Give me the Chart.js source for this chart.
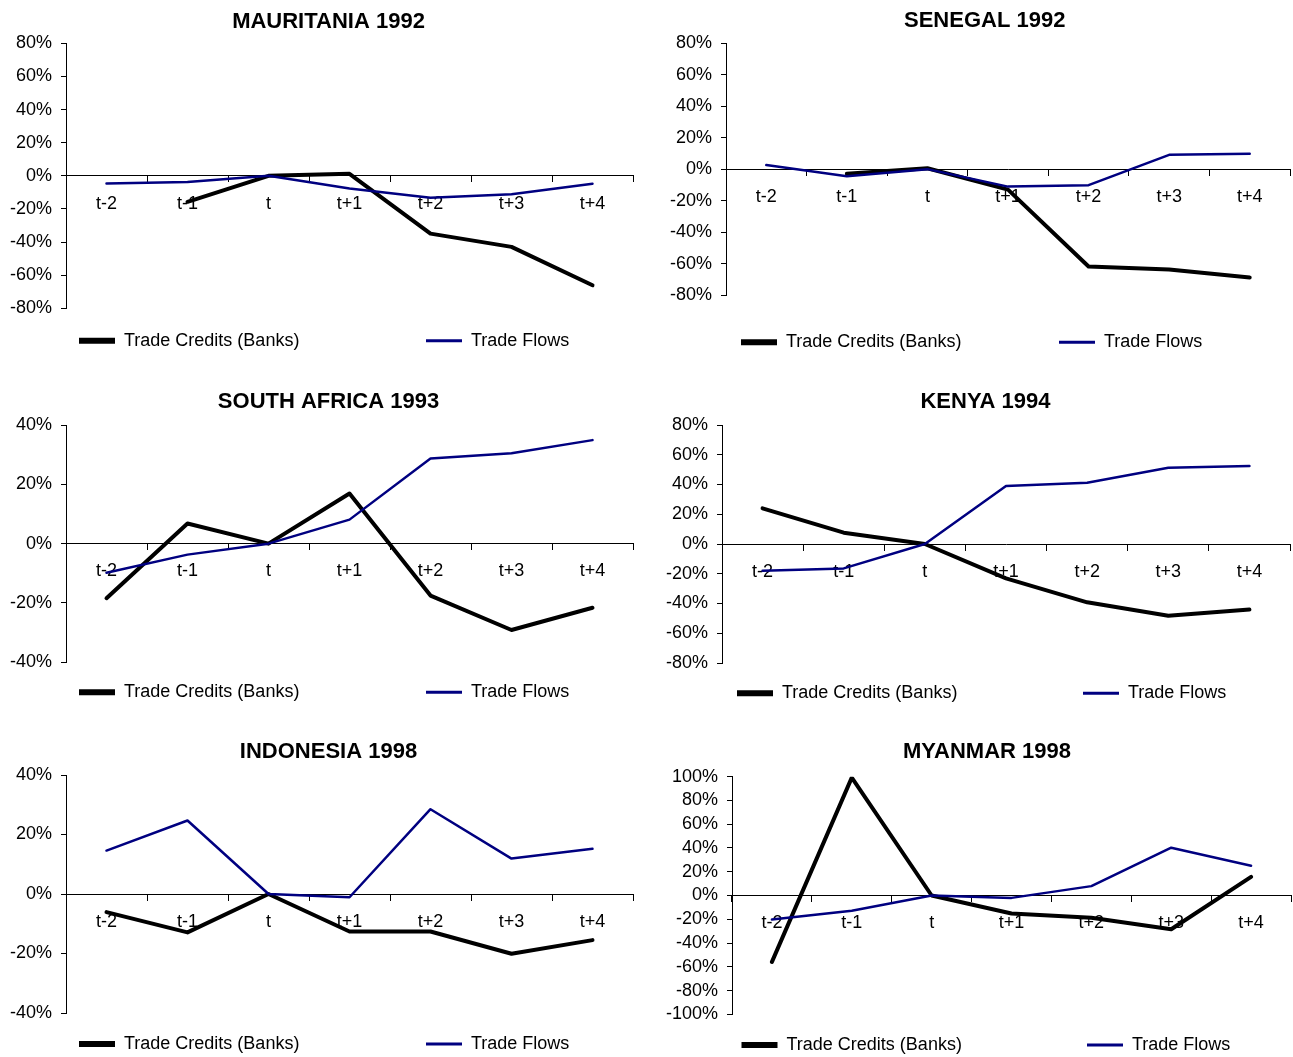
<!DOCTYPE html>
<html lang="en">
<head>
  <meta charset="UTF-8">
  <title>Trade Credits vs Trade Flows</title>
  <script src="https://cdn.jsdelivr.net/npm/chart.js"></script>
  <style>
    body { margin: 0; background: #fff; }
    .panel { position: absolute; }
  </style>
</head>
<body>
  <div id="charts"></div>
  <script>
    // periods around the crisis year
    const periods = ['t-2', 't-1', 't', 't+1', 't+2', 't+3', 't+4'];
    const seriesNames = ['Trade Credits (Banks)', 'Trade Flows'];

    // values in percent
    const mauritaniaCredits = [null, -15.7, 0, 1.2, -34.9, -42.9, -66.1];
    const mauritaniaFlows = [-4.6, -3.8, 0, -7.7, -13.3, -11.1, -4.8];

    const senegalCredits = [null, -3.0, 0.6, -13.0, -61.9, -63.8, -68.9];
    const senegalFlows = [2.6, -4.5, 0, -11.1, -10.2, 9.1, 9.8];

    const southAfricaCredits = [-18.4, 6.8, 0, 16.9, -17.5, -29.1, -21.6];
    const southAfricaFlows = [-9.8, -3.7, 0, 8.1, 28.7, 30.5, 34.9];

    const kenyaCredits = [24.0, 7.6, 0, -23.1, -39.2, -48.2, -44.1];
    const kenyaFlows = [-17.9, -16.4, 0, 39.0, 41.2, 51.3, 52.4];

    const indonesiaCredits = [-6.1, -12.9, 0, -12.6, -12.6, -20.1, -15.5];
    const indonesiaFlows = [14.6, 24.7, 0, -1.1, 28.5, 11.9, 15.2];

    const myanmarCredits = [-55.9, 99.2, 0, -15.2, -18.8, -28.4, 15.7];
    const myanmarFlows = [-20.2, -12.9, 0, -2.0, 7.9, 40.2, 25.0];

    // y axis ranges (percent)
    const range80 = { min: -80, max: 80, step: 20 };
    const range40 = { min: -40, max: 40, step: 20 };
    const range100 = { min: -100, max: 100, step: 20 };

    const FONT = '"Liberation Sans", Arial, sans-serif';
    Chart.defaults.font.family = FONT;
    Chart.defaults.color = '#000';

    // title is centred over the whole excel chart object, not only the canvas box
    const titleShift = {
      id: 'titleShift',
      afterLayout(chart, args, opts) {
        const t = chart.titleBlock;
        if (t && opts.dx) {
          t.left += opts.dx;
          t.right += opts.dx;
        }
      }
    };

    // excel style legend: two entries spread far apart under the plot
    const lineLegend = {
      id: 'lineLegend',
      afterDraw(chart, args, opts) {
        const ctx = chart.ctx;
        ctx.save();
        ctx.font = '18px ' + FONT;
        ctx.textBaseline = 'middle';
        ctx.fillStyle = '#000';
        chart.data.datasets.forEach((ds, i) => {
          const x = opts.x[i];
          ctx.strokeStyle = ds.borderColor;
          ctx.lineWidth = ds.legendWidth;
          ctx.beginPath();
          ctx.moveTo(x, opts.y);
          ctx.lineTo(x + 36, opts.y);
          ctx.stroke();
          ctx.fillText(ds.label, x + 45, opts.y);
        });
        ctx.restore();
      }
    };

    const panels = [
      { title: 'MAURITANIA 1992', credits: mauritaniaCredits, flows: mauritaniaFlows, range: range80,
        box: [0, 0, 646, 362], axisW: 66, padRight: 13, padBottom: 53.7, titleY: 22.3, plotTop: 43.3,
        titleDx: 12, legendX: [79, 426], legendY: 340.7 },
      { title: 'SENEGAL 1992', credits: senegalCredits, flows: senegalFlows, range: range80,
        box: [646, 0, 647, 362], axisW: 80, padRight: 3, padBottom: 67, titleY: 20.7, plotTop: 43.3,
        titleDx: 16.7, legendX: [95, 413], legendY: 342.3 },
      { title: 'SOUTH AFRICA 1993', credits: southAfricaCredits, flows: southAfricaFlows, range: range40,
        box: [0, 380, 646, 335], axisW: 66, padRight: 13, padBottom: 52.7, titleY: 22.3, plotTop: 45,
        titleDx: 12, legendX: [79, 426], legendY: 312.3 },
      { title: 'KENYA 1994', credits: kenyaCredits, flows: kenyaFlows, range: range80,
        box: [646, 380, 647, 335], axisW: 76, padRight: 3, padBottom: 52, titleY: 22.3, plotTop: 45,
        titleDx: 17.5, legendX: [91, 437], legendY: 313.3 },
      { title: 'INDONESIA 1998', credits: indonesiaCredits, flows: indonesiaFlows, range: range40,
        box: [0, 730, 646, 327], axisW: 66, padRight: 13, padBottom: 44, titleY: 22.3, plotTop: 45,
        titleDx: 12, legendX: [79, 426], legendY: 314 },
      { title: 'MYANMAR 1998', credits: myanmarCredits, flows: myanmarFlows, range: range100,
        box: [646, 730, 647, 327], axisW: 86, padRight: 2, padBottom: 42.7, titleY: 22.3, plotTop: 46.7,
        titleDx: 18.5, legendX: [95.5, 441], legendY: 315 }
    ];

    const holder = document.getElementById('charts');

    panels.forEach(p => {
      const [left, top, width, height] = p.box;
      const div = document.createElement('div');
      div.className = 'panel';
      div.style.left = left + 'px';
      div.style.top = top + 'px';
      const canvas = document.createElement('canvas');
      canvas.width = width;
      canvas.height = height;
      div.appendChild(canvas);
      holder.appendChild(div);

      const half = 22 * 1.2 / 2;

      new Chart(canvas.getContext('2d'), {
        type: 'line',
        data: {
          labels: periods,
          datasets: [
            {
              label: seriesNames[0],
              data: p.credits,
              borderColor: '#000',
              borderWidth: 4,
              legendWidth: 6,
              order: 1
            },
            {
              label: seriesNames[1],
              data: p.flows,
              borderColor: '#000080',
              borderWidth: 2.5,
              legendWidth: 3,
              order: 0
            }
          ]
        },
        options: {
          responsive: false,
          animation: false,
          events: [],
          spanGaps: false,
          elements: {
            point: { radius: 0 },
            line: { tension: 0, borderJoinStyle: 'round', borderCapStyle: 'round' }
          },
          layout: {
            padding: { left: 0, right: p.padRight, top: 0, bottom: p.padBottom }
          },
          plugins: {
            legend: { display: false },
            tooltip: { enabled: false },
            title: {
              display: true,
              text: p.title,
              font: { size: 22, weight: 'bold' },
              color: '#000',
              padding: { top: p.titleY - half, bottom: p.plotTop - p.titleY - half }
            },
            titleShift: { dx: p.titleDx },
            lineLegend: { x: p.legendX, y: p.legendY }
          },
          scales: {
            x: {
              position: { y: 0 },
              offset: true,
              grid: {
                offset: true,
                drawOnChartArea: false,
                drawTicks: true,
                tickLength: 6,
                color: '#000'
              },
              border: { display: true, color: '#000', width: 1 },
              ticks: {
                font: { size: 18 },
                color: '#000',
                padding: 11,
                maxRotation: 0,
                autoSkip: false
              }
            },
            y: {
              min: p.range.min,
              max: p.range.max,
              afterFit: scale => { scale.width = p.axisW; },
              grid: {
                drawOnChartArea: false,
                drawTicks: true,
                tickLength: 5,
                color: '#000'
              },
              border: { display: true, color: '#000', width: 1 },
              ticks: {
                stepSize: p.range.step,
                autoSkip: false,
                font: { size: 18 },
                color: '#000',
                padding: 9,
                callback: v => v + '%'
              }
            }
          }
        },
        plugins: [titleShift, lineLegend]
      });
    });
  </script>
</body>
</html>
